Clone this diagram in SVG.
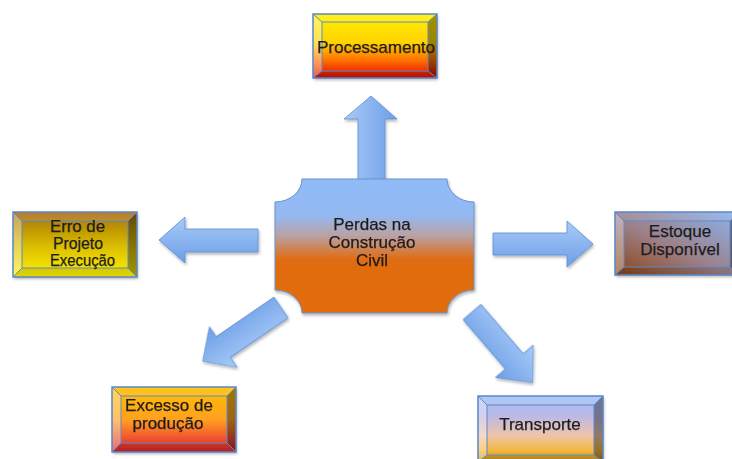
<svg xmlns="http://www.w3.org/2000/svg" width="732" height="459" viewBox="0 0 732 459">
<defs>
<style>
.lbl{font-family:"Liberation Sans",Arial,sans-serif;font-size:17px;fill:#1c1c1c;stroke:#1c1c1c;stroke-width:0.25;text-anchor:middle}
.arrow{stroke:#5b8ed6;stroke-width:0.8;fill:url(#gArrow)}
.edge{fill:none;stroke:#5f89c8;stroke-width:1}
.outer{fill:none;stroke:#5b86c6;stroke-width:1.5}
.lt{fill:#fff;fill-opacity:0.35}
.tp{fill:#fff;fill-opacity:0.1}
.rt{fill:#000;fill-opacity:0.38}
.bt{fill:#000;fill-opacity:0.12}
</style>
<filter id="sh" x="-10%" y="-10%" width="130%" height="140%">
<feDropShadow dx="1" dy="2" stdDeviation="1.5" flood-color="#000" flood-opacity="0.3"/>
</filter>
<linearGradient id="gArrow" x1="0" y1="0" x2="0" y2="1">
<stop offset="0" stop-color="#a9cbf8"/>
<stop offset="1" stop-color="#6c9ee6"/>
</linearGradient>
<linearGradient id="gArrowH" x1="0" y1="0" x2="1" y2="0">
<stop offset="0" stop-color="#a9cbf8"/>
<stop offset="1" stop-color="#6c9ee6"/>
</linearGradient>
<linearGradient id="gCenter" x1="0" y1="0" x2="0" y2="1">
<stop offset="0" stop-color="#90bbf8"/>
<stop offset="0.27" stop-color="#94b9f2"/>
<stop offset="0.42" stop-color="#b9a2a6"/>
<stop offset="0.6" stop-color="#e06c12"/>
<stop offset="1" stop-color="#e36c0a"/>
</linearGradient>
<linearGradient id="gProc" x1="0" y1="0" x2="0" y2="1">
<stop offset="0" stop-color="#fff000"/>
<stop offset="0.45" stop-color="#ffd200"/>
<stop offset="0.72" stop-color="#ff7200"/>
<stop offset="0.88" stop-color="#ee3300"/>
<stop offset="1" stop-color="#cc0a0a"/>
</linearGradient>
<linearGradient id="gErro" x1="0" y1="0" x2="0" y2="1">
<stop offset="0" stop-color="#b06a20"/>
<stop offset="0.15" stop-color="#b48608"/>
<stop offset="0.55" stop-color="#dcc000"/>
<stop offset="1" stop-color="#fff200"/>
</linearGradient>
<linearGradient id="gEst" x1="0" y1="1" x2="1" y2="0">
<stop offset="0" stop-color="#8b4210"/>
<stop offset="0.45" stop-color="#9c8088"/>
<stop offset="1" stop-color="#8cb4f2"/>
</linearGradient>
<linearGradient id="gExc" x1="0" y1="0" x2="0" y2="1">
<stop offset="0" stop-color="#ffc000"/>
<stop offset="0.5" stop-color="#ffa020"/>
<stop offset="0.8" stop-color="#f05030"/>
<stop offset="1" stop-color="#d02028"/>
</linearGradient>
<linearGradient id="gTra" x1="0" y1="0" x2="0" y2="1">
<stop offset="0" stop-color="#a2c2f8"/>
<stop offset="0.3" stop-color="#bcb8e6"/>
<stop offset="0.6" stop-color="#eec4a8"/>
<stop offset="0.82" stop-color="#f2b840"/>
<stop offset="1" stop-color="#c89018"/>
</linearGradient>
</defs>

<g id="connectors" filter="url(#sh)">
<path class="arrow" style="fill:url(#gArrowH)" d="M371,96 L397,119 L385,119 L385,181 L358,181 L358,119 L344,119 Z"/>
<path class="arrow" d="M159,240 L185,217 L185,229 L258,229 L258,252 L185,252 L185,263 Z"/>
<path class="arrow" d="M593,244 L567,221 L567,233 L493,233 L493,255 L567,255 L567,267 Z"/>
<path class="arrow" transform="translate(281,307.5) rotate(145.6)" d="M0,-12.5 L70,-12.5 L70,-24.5 L95,0 L70,24.5 L70,12.5 L0,12.5 Z"/>
<path class="arrow" transform="translate(472,312) rotate(49.4)" d="M0,-11.7 L65,-11.7 L65,-25 L93,0 L65,25 L65,11.7 L0,11.7 Z"/>
</g>

<g id="center">
<path d="M302,179 H447 A27,23 0 0 0 474,202 V290 A27,23 0 0 0 447,313 H302 A27,23 0 0 0 275,290 V202 A27,23 0 0 0 302,179 Z" fill="url(#gCenter)" stroke="#6a92cc" stroke-width="1" filter="url(#sh)"/>
<text class="lbl" x="372" y="230">Perdas na</text>
<text class="lbl" x="372" y="248">Construção</text>
<text class="lbl" x="372" y="266">Civil</text>
</g>

<g id="processamento">
<rect x="313" y="14" width="124" height="64" fill="url(#gProc)" filter="url(#sh)"/>
<polygon class="tp" points="313,14 437,14 428,22 322,22"/>
<polygon class="lt" points="313,14 322,22 322,71 313,78"/>
<polygon class="rt" points="437,14 437,78 428,71 428,22"/>
<polygon class="bt" points="313,78 322,71 428,71 437,78"/>
<path class="edge" d="M322,22 H428 V71 H322 Z M313,14 L322,22 M437,14 L428,22 M313,78 L322,71 M437,78 L428,71"/>
<rect class="outer" x="313" y="14" width="124" height="64"/>
<text class="lbl" x="376" y="53">Processamento</text>
</g>

<g id="erro">
<rect x="13" y="212" width="124" height="65" fill="url(#gErro)" filter="url(#sh)"/>
<polygon class="tp" points="13,212 137,212 128,221 22,221"/>
<polygon class="lt" points="13,212 22,221 22,268 13,277"/>
<polygon class="rt" points="137,212 137,277 128,268 128,221"/>
<polygon class="bt" points="13,277 22,268 128,268 137,277"/>
<path class="edge" d="M22,221 H128 V268 H22 Z M13,212 L22,221 M137,212 L128,221 M13,277 L22,268 M137,277 L128,268"/>
<rect class="outer" x="13" y="212" width="124" height="65"/>
<text class="lbl" style="text-anchor:start;font-size:16px" x="50" y="231.5" textLength="55" lengthAdjust="spacingAndGlyphs">Erro de</text>
<text class="lbl" style="text-anchor:start;font-size:16px" x="53" y="248.5" textLength="50" lengthAdjust="spacingAndGlyphs">Projeto</text>
<text class="lbl" style="text-anchor:start;font-size:16px" x="50" y="265.5" textLength="65" lengthAdjust="spacingAndGlyphs">Execução</text>
</g>

<g id="estoque">
<rect x="615" y="212" width="124" height="63" fill="url(#gEst)" filter="url(#sh)"/>
<polygon class="tp" points="615,212 739,212 730,221 624,221"/>
<polygon class="lt" points="615,212 624,221 624,267 615,275"/>
<polygon class="rt" points="739,212 739,275 730,267 730,221"/>
<polygon class="bt" points="615,275 624,267 730,267 739,275"/>
<path class="edge" d="M624,221 H730 V267 H624 Z M615,212 L624,221 M739,212 L730,221 M615,275 L624,267 M739,275 L730,267"/>
<rect class="outer" x="615" y="212" width="124" height="63"/>
<text class="lbl" x="680" y="237">Estoque</text>
<text class="lbl" x="680" y="254.5">Disponível</text>
</g>

<g id="excesso">
<rect x="112" y="387" width="124" height="65" fill="url(#gExc)" filter="url(#sh)"/>
<polygon class="tp" points="112,387 236,387 227,396 121,396"/>
<polygon class="lt" points="112,387 121,396 121,443 112,452"/>
<polygon class="rt" points="236,387 236,452 227,443 227,396"/>
<polygon class="bt" points="112,452 121,443 227,443 236,452"/>
<path class="edge" d="M121,396 H227 V443 H121 Z M112,387 L121,396 M236,387 L227,396 M112,452 L121,443 M236,452 L227,443"/>
<rect class="outer" x="112" y="387" width="124" height="65"/>
<text class="lbl" x="169" y="410.5">Excesso de</text>
<text class="lbl" x="168" y="428.5">produção</text>
</g>

<g id="transporte">
<rect x="478" y="396" width="125" height="66" fill="url(#gTra)" filter="url(#sh)"/>
<polygon class="tp" points="478,396 603,396 594,405 487,405"/>
<polygon class="lt" points="478,396 487,405 487,455 478,462"/>
<polygon class="rt" points="603,396 603,462 594,455 594,405"/>
<polygon class="bt" points="478,462 487,455 594,455 603,462"/>
<path class="edge" d="M487,405 H594 V455 H487 Z M478,396 L487,405 M603,396 L594,405 M478,462 L487,455 M603,462 L594,455"/>
<rect class="outer" x="478" y="396" width="125" height="66"/>
<text class="lbl" x="540" y="429.5">Transporte</text>
</g>
</svg>
